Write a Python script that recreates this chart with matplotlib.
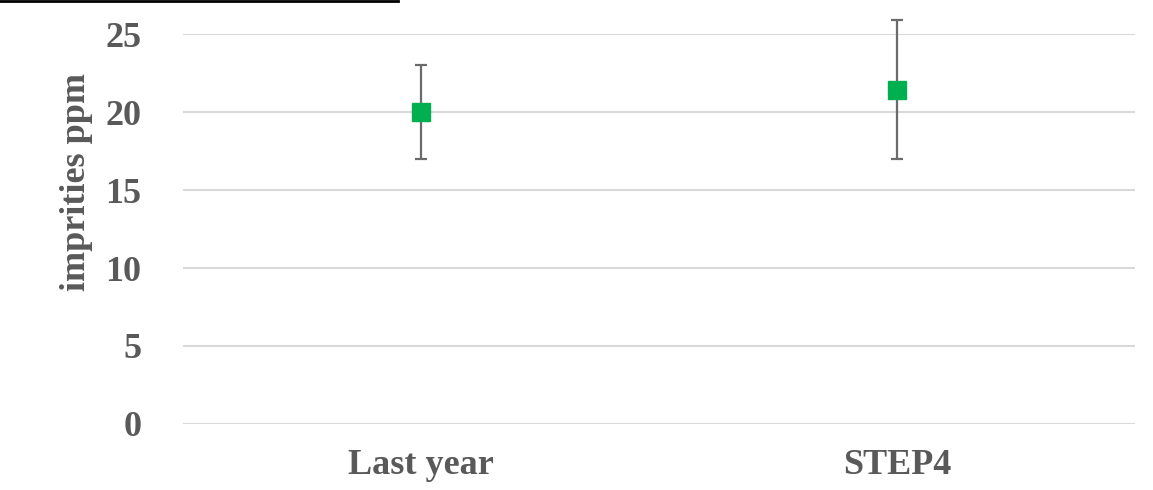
import matplotlib.pyplot as plt
from matplotlib.lines import Line2D

# Impurity levels per batch group (ppm)
categorias = ["Last year", "STEP4"]
medias = [20.0, 21.4]
erro_inferior = [3.0, 4.4]
erro_superior = [3.0, 4.5]

cinza = "#595959"

plt.rcParams["font.family"] = ["Liberation Serif", "DejaVu Serif"]

fig = plt.figure(figsize=(11.53, 4.9), dpi=100)
ax = fig.add_axes([0.1587, 0.1347, 0.9844 - 0.1587, 0.9306 - 0.1347])

x = range(len(categorias))
ax.errorbar(x, medias, yerr=[erro_inferior, erro_superior], fmt="s",
            color="#00B050", markersize=13, ecolor="#6b6b6b",
            elinewidth=1.6, capsize=4, capthick=1.6, clip_on=False, zorder=3)

# Estética
ax.set_xlim(-0.5, 1.5)
ax.set_ylim(0, 25)
ax.set_yticks([0, 5, 10, 15, 20, 25])
ax.set_xticks(list(x))
ax.set_xticklabels(categorias)
ax.grid(axis="y", color="#D9D9D9", linewidth=1.5)
ax.set_axisbelow(True)
for lado in ax.spines.values():
    lado.set_visible(False)
ax.tick_params(length=0, labelsize=26, labelcolor=cinza)
ax.tick_params(axis="y", pad=30)
ax.tick_params(axis="x", pad=18)
for rotulo in ax.get_xticklabels() + ax.get_yticklabels():
    rotulo.set_fontweight("bold")
ax.set_ylabel("imprities ppm", fontsize=26, fontweight="bold", color=cinza)
ax.yaxis.set_label_coords(-0.094, 0.62)

# linha preta no topo
fig.add_artist(Line2D([0, 398 / 1153], [0.998, 0.998], color="black", linewidth=2))

plt.savefig("out.png")
plt.close()
